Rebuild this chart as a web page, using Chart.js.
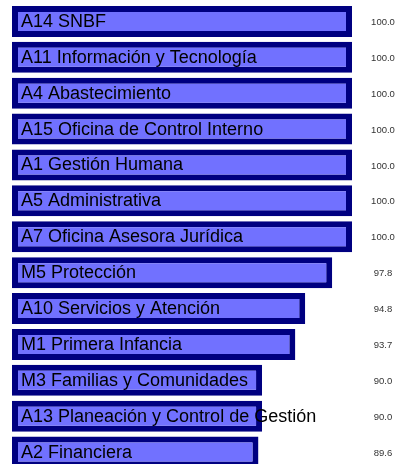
<!DOCTYPE html>
<html>
<head>
<meta charset="utf-8">
<script src="https://cdn.jsdelivr.net/npm/chart.js@4"></script>
<style>
  html, body { margin: 0; padding: 0; background: #fff; overflow: hidden; }
  #wrap { width: 407px; height: 470px; position: relative; }
</style>
</head>
<body>
<div id="wrap"><canvas id="chart"></canvas></div>
<script>
const areas = [
  "A14 SNBF",
  "A11 Información y Tecnología",
  "A4 Abastecimiento",
  "A15 Oficina de Control Interno",
  "A1 Gestión Humana",
  "A5 Administrativa",
  "A7 Oficina Asesora Jurídica",
  "M5 Protección",
  "A10 Servicios y Atención",
  "M1 Primera Infancia",
  "M3 Familias y Comunidades",
  "A13 Planeación y Control de Gestión",
  "A2 Financiera"
];
const scores = [100.0, 100.0, 100.0, 100.0, 100.0, 100.0, 100.0, 97.8, 94.8, 93.7, 90.0, 90.0, 89.6];
const axisMin = 62.2;
const axisMax = 100;

// writes the area name inside each bar and the score to the right
const barText = {
  id: "barText",
  afterDatasetsDraw(chart) {
    const ctx = chart.ctx;
    const meta = chart.getDatasetMeta(0);
    const left = chart.chartArea.left;
    ctx.save();
    meta.data.forEach((bar, i) => {
      ctx.textBaseline = "middle";
      ctx.textAlign = "left";
      ctx.fillStyle = "#000";
      ctx.font = "18px 'Liberation Sans', Arial, sans-serif";
      ctx.fillText(areas[i], left + 9, bar.y + 0.5);

      ctx.textAlign = "center";
      ctx.fillStyle = "#333";
      ctx.font = "9.5px 'Liberation Sans', Arial, sans-serif";
      ctx.fillText(scores[i].toFixed(1), 383, bar.y + 1);
    });
    ctx.restore();
  }
};

new Chart(document.getElementById("chart"), {
  type: "bar",
  data: {
    labels: areas,
    datasets: [{
      data: scores,
      base: axisMin,
      backgroundColor: "#7171FF",
      borderColor: "#000080",
      borderWidth: 6,
      borderSkipped: false,
      barPercentage: 0.864,
      categoryPercentage: 1
    }]
  },
  options: {
    indexAxis: "y",
    responsive: true,
    maintainAspectRatio: false,
    animation: false,
    layout: { padding: { left: 12, right: 55, top: 3.5, bottom: 0 } },
    plugins: { legend: { display: false }, tooltip: { enabled: false } },
    scales: {
      x: { display: false, min: axisMin, max: axisMax },
      y: { display: false }
    }
  },
  plugins: [barText]
});
</script>
</body>
</html>
